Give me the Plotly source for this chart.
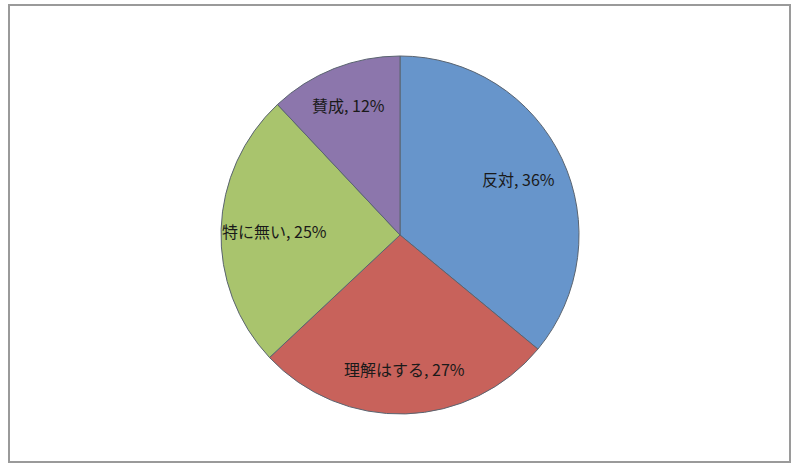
import math

import plotly.graph_objects as go

# 回答区分と割合(%)
labels = ["反対", "理解はする", "特に無い", "賛成"]
values = [36, 27, 25, 12]
colors = ["#6795CB", "#C8625B", "#A9C46D", "#8C76AC"]

W, H = 800, 471
CX, CY, R = 400, 235, 179  # 円の中心と半径(px)
label_r = [0.73, 0.75, 0.70, 0.78]  # ラベルの半径方向位置

fig = go.Figure(
    go.Pie(
        labels=labels,
        values=values,
        sort=False,
        direction="clockwise",
        rotation=0,
        marker=dict(colors=colors, line=dict(color="#5A6470", width=1)),
        textinfo="none",
        hoverinfo="label+percent",
        domain=dict(x=[(CX - R) / W, (CX + R) / W], y=[1 - (CY + R) / H, 1 - (CY - R) / H]),
        showlegend=False,
    )
)

# データラベル(各扇形の中心角の方向に配置)
total = sum(values)
cum = 0
for lab, v, fr in zip(labels, values, label_r):
    mid = (cum + v / 2) / total * 2 * math.pi
    cum += v
    px_ = CX + fr * R * math.sin(mid)
    py_ = CY - fr * R * math.cos(mid)
    fig.add_annotation(
        x=px_ / W, y=1 - py_ / H, xref="paper", yref="paper",
        xanchor="center", yanchor="middle",
        text=f"{lab}, {round(v / total * 100)}%", showarrow=False,
        font=dict(family="Noto Sans CJK JP", size=16, color="#1A1A1A"),
    )

# 外枠
fig.add_shape(
    type="rect", xref="paper", yref="paper",
    x0=9 / W, x1=790 / W, y0=1 - 462 / H, y1=1 - 5 / H,
    line=dict(color="#9A9A9A", width=2),
)

fig.update_layout(
    width=W,
    height=H,
    margin=dict(l=0, r=0, t=0, b=0),
    paper_bgcolor="white",
    plot_bgcolor="white",
)

fig.write_html(
    "out.html",
    config={"displayModeBar": False},
    post_script="document.body.style.margin='0';",
)
